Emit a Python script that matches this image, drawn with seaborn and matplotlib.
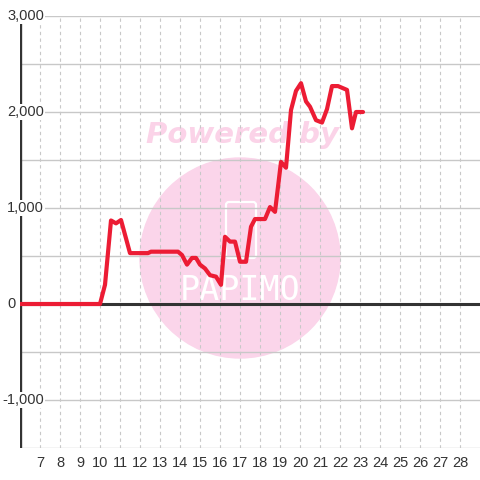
import matplotlib
matplotlib.use("Agg")
import matplotlib.pyplot as plt
import seaborn as sns
import pandas as pd
from matplotlib.patches import Circle, FancyBboxPatch

# data (day of month, value)
days = [6.0, 10.0, 10.25, 10.55, 10.8, 11.05, 11.5, 12.4, 12.55, 13.9,
        14.1, 14.35, 14.6, 14.8, 15.0, 15.25, 15.5, 15.8, 16.05, 16.25,
        16.5, 16.75, 17.0, 17.3, 17.55, 17.75, 18.25, 18.5, 18.75, 19.05,
        19.3, 19.55, 19.8, 20.05, 20.3, 20.5, 20.8, 21.1, 21.35, 21.6,
        21.9, 22.35, 22.6, 22.8, 23.15]
values = [0, 0, 200, 870, 840, 875, 530, 530, 545, 545,
          510, 410, 480, 480, 410, 370, 300, 285, 200, 700,
          650, 650, 440, 440, 805, 885, 885, 1010, 960, 1480,
          1420, 2020, 2220, 2300, 2110, 2055, 1915, 1890, 2030, 2270,
          2270, 2230, 1830, 2000, 2000]

x_ticks = list(range(7, 29))
y_grid = [-1500, -1000, -500, 0, 500, 1000, 1500, 2000, 2500, 3000]
y_labels = [-1000, 0, 1000, 2000, 3000]

df = pd.DataFrame({"day": days, "value": values})

sns.set_style("white")
plt.rcParams["font.family"] = ["Liberation Sans", "DejaVu Sans"]

fig = plt.figure(figsize=(4.8, 4.8), dpi=100, facecolor="white")
ax = fig.add_axes([20 / 480, 1 - 448 / 480, 460 / 480, 432 / 480])
ax.set_facecolor("none")

# watermark behind the grid
fig.patches.append(Circle((240 / 480, 1 - 258 / 480), 100 / 480,
                          transform=fig.transFigure, color="#fbd5ea",
                          zorder=-5))
fig.patches.append(FancyBboxPatch((226 / 480, 1 - 258 / 480), 30 / 480, 56 / 480,
                                  boxstyle="round,pad=0,rounding_size=0.006",
                                  transform=fig.transFigure, fc="none",
                                  ec="white", lw=1.6, zorder=-4))
fig.text(242 / 480, 1 - 135 / 480, "Powered by", color="#fbd3e8",
         fontsize=21, fontweight="bold", style="italic",
         family="DejaVu Sans", ha="center", va="center", zorder=-4)
fig.text(240 / 480, 1 - 290 / 480, "PAPIMO", color="white",
         fontsize=24, ha="center", va="center", zorder=-4,
         family="DejaVu Sans Mono")

# grid
for g in y_grid:
    ax.axhline(g, color="#c8c8c8", lw=1, zorder=1)
for t in x_ticks:
    ax.axvline(t, color="#c8c8c8", lw=0.8, ls=(0, (3, 3)), zorder=1)

ax.axhline(0, color="#333333", lw=2.2, zorder=2)
ax.axvline(6, color="#333333", lw=2.4, zorder=2)

sns.lineplot(data=df, x="day", y="value", color="#ec1c34", lw=3,
             ax=ax, zorder=3)

ax.set_xlim(6, 29)
ax.set_ylim(-1500, 3000)
ax.set_xticks(x_ticks)
ax.set_xticklabels([str(t) for t in x_ticks], color="#333333", fontsize=10.5)
ax.tick_params(axis="x", length=0, pad=6)
ax.set_yticks([])
ax.set_xlabel("")
ax.set_ylabel("")
for s in ["top", "right", "left", "bottom"]:
    ax.spines[s].set_visible(False)

# y labels sit over the axis line, left aligned near the figure edge
for v in y_labels:
    x0 = 2 / 480 if v < 0 else 7 / 480
    y0 = ax.transData.transform((6, v))[1] / 480
    fig.text(x0, y0, f"{v:,}", ha="left", va="center", fontsize=10.5,
             color="#333333", zorder=5,
             bbox=dict(boxstyle="square,pad=0.1", fc="white", ec="none"))

fig.savefig("out.png", dpi=100)
